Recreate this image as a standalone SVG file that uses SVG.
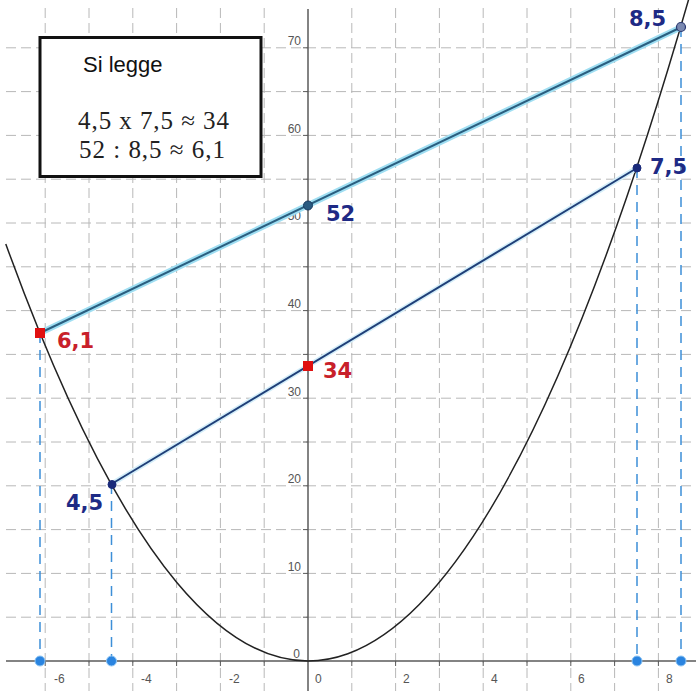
<svg xmlns="http://www.w3.org/2000/svg" width="696" height="691" viewBox="0 0 696 691">
<style>
.grid line{stroke:#b8b8b8;stroke-width:1;stroke-dasharray:10 5}
.axis{stroke:#5a5a5a;stroke-width:1.5;fill:none}
.tick{stroke:#5a5a5a;stroke-width:1}
.tl{font-family:"Liberation Sans",Arial,sans-serif;font-size:12px;fill:#555}
.drop{stroke:#3d8fd8;stroke-width:1.5;stroke-dasharray:10 7;fill:none}
.glow1{stroke:#9fdef2;stroke-width:6;fill:none;stroke-linecap:round}
.core1{stroke:#2a5f80;stroke-width:2;fill:none}
.glow2{stroke:#d4eef9;stroke-width:5;fill:none;stroke-linecap:round}
.core2{stroke:#1f3f78;stroke-width:2;fill:none}
.lbl{font-family:"DejaVu Sans",Verdana,sans-serif;font-weight:bold;font-size:21px}
.navy{fill:#1e2a85}
.red{fill:#c8202a}
.dot{fill:#1a2a7a;stroke:#1a2a7a;stroke-width:1}
.sq{fill:#e01010}
.xd{fill:#2a84e0;stroke:#8cc4f4;stroke-width:1}
</style>
<rect width="696" height="691" fill="#fff"/>
<g class="grid" id="grid">
<line x1="45.2" y1="8" x2="45.2" y2="691"/>
<line x1="89" y1="8" x2="89" y2="691"/>
<line x1="132.8" y1="8" x2="132.8" y2="691"/>
<line x1="176.6" y1="8" x2="176.6" y2="691"/>
<line x1="220.4" y1="8" x2="220.4" y2="691"/>
<line x1="264.2" y1="8" x2="264.2" y2="691"/>
<line x1="351.8" y1="8" x2="351.8" y2="691"/>
<line x1="395.6" y1="8" x2="395.6" y2="691"/>
<line x1="439.4" y1="8" x2="439.4" y2="691"/>
<line x1="483.2" y1="8" x2="483.2" y2="691"/>
<line x1="527" y1="8" x2="527" y2="691"/>
<line x1="570.8" y1="8" x2="570.8" y2="691"/>
<line x1="614.6" y1="8" x2="614.6" y2="691"/>
<line x1="658.4" y1="8" x2="658.4" y2="691"/>
<line x1="6" y1="617.2" x2="696" y2="617.2"/>
<line x1="6" y1="573.4" x2="696" y2="573.4"/>
<line x1="6" y1="529.6" x2="696" y2="529.6"/>
<line x1="6" y1="485.8" x2="696" y2="485.8"/>
<line x1="6" y1="442" x2="696" y2="442"/>
<line x1="6" y1="398.2" x2="696" y2="398.2"/>
<line x1="6" y1="354.4" x2="696" y2="354.4"/>
<line x1="6" y1="310.6" x2="696" y2="310.6"/>
<line x1="6" y1="266.8" x2="696" y2="266.8"/>
<line x1="6" y1="223" x2="696" y2="223"/>
<line x1="6" y1="179.2" x2="696" y2="179.2"/>
<line x1="6" y1="135.4" x2="696" y2="135.4"/>
<line x1="6" y1="91.6" x2="696" y2="91.6"/>
<line x1="6" y1="47.8" x2="696" y2="47.8"/>
</g>
<g id="axes">
<line class="axis" x1="6" y1="661" x2="696" y2="661"/>
<line class="axis" x1="308" y1="9" x2="308" y2="691"/>
<path class="tick" d="M45.2 661v5M89 661v5M132.8 661v5M176.6 661v5M220.4 661v5M264.2 661v5M351.8 661v5M395.6 661v5M439.4 661v5M483.2 661v5M527 661v5M570.8 661v5M614.6 661v5M658.4 661v5M303 617.2h5M303 573.4h5M303 529.6h5M303 485.8h5M303 442h5M303 398.2h5M303 354.4h5M303 310.6h5M303 266.8h5M303 223h5M303 179.2h5M303 135.4h5M303 91.6h5M303 47.8h5"/>
<g class="tl" text-anchor="end">
<text x="301" y="45">70</text>
<text x="301" y="133">60</text>
<text x="301" y="220">50</text>
<text x="301" y="308">40</text>
<text x="301" y="396">30</text>
<text x="301" y="483">20</text>
<text x="301" y="571">10</text>
<text x="300" y="658">0</text>
</g>
<g class="tl">
<text x="54" y="683">-6</text>
<text x="141" y="683">-4</text>
<text x="229" y="683">-2</text>
<text x="315" y="683">0</text>
<text x="403" y="683">2</text>
<text x="491" y="683">4</text>
<text x="578" y="683">6</text>
<text x="666" y="683">8</text>
</g>
</g>
<g id="parabola">
<path d="M5.78 243.94Q347.86 1188.07 689.94 -5.1" fill="none" stroke="#222" stroke-width="1.5"/>
</g>
<g id="connectors">
<line class="drop" x1="40" y1="333" x2="40" y2="661"/>
<line class="drop" x1="111.5" y1="484" x2="111.5" y2="661"/>
<line class="drop" x1="637" y1="168" x2="637" y2="661"/>
<line class="drop" x1="681" y1="27" x2="681" y2="661"/>
<line class="glow1" x1="40" y1="333" x2="680.5" y2="27.5"/>
<line class="core1" x1="40" y1="333" x2="680.5" y2="27.5"/>
<line class="glow2" x1="111.5" y1="484" x2="637" y2="168"/>
<line class="core2" x1="111.5" y1="484" x2="637" y2="168"/>
</g>
<g id="box">
<rect x="40" y="37.5" width="221" height="139" fill="#fff" stroke="#111" stroke-width="3"/>
<text x="83" y="72" font-family="'Liberation Sans',Arial,sans-serif" font-size="22" fill="#111">Si legge</text>
<text x="78" y="129" font-family="'Liberation Serif','Times New Roman',serif" font-size="25" fill="#222" textLength="151" lengthAdjust="spacing">4,5 x 7,5 ≈ 34</text>
<text x="79" y="158" font-family="'Liberation Serif','Times New Roman',serif" font-size="25" fill="#222" textLength="146" lengthAdjust="spacing">52 : 8,5 ≈ 6,1</text>
</g>
<g id="node-8-5">
<circle cx="681" cy="27" r="4.5" fill="#7a88b0" stroke="#2a3870" stroke-width="1.2"/>
<text class="lbl navy" x="629" y="26">8,5</text>
</g>
<g id="node-7-5">
<circle class="dot" cx="637" cy="168" r="4"/>
<text class="lbl navy" x="650" y="174">7,5</text>
</g>
<g id="node-52">
<circle cx="308" cy="205.5" r="4.5" fill="#2a5a80" stroke="#1a3a60" stroke-width="1"/>
<text class="lbl navy" x="326" y="221">52</text>
</g>
<g id="node-4-5">
<circle class="dot" cx="112" cy="484.5" r="4"/>
<text class="lbl navy" x="66" y="510">4,5</text>
</g>
<g id="node-6-1">
<rect class="sq" x="35" y="328" width="10" height="10"/>
<text class="lbl red" x="57" y="348">6,1</text>
</g>
<g id="node-34">
<rect class="sq" x="303" y="361" width="10" height="10"/>
<text class="lbl red" x="323" y="378">34</text>
</g>
<g id="x-points">
<circle class="xd" cx="40" cy="661" r="5"/>
<circle class="xd" cx="111.5" cy="661" r="5"/>
<circle class="xd" cx="637" cy="661" r="5"/>
<circle class="xd" cx="681" cy="661" r="5"/>
</g>
</svg>
